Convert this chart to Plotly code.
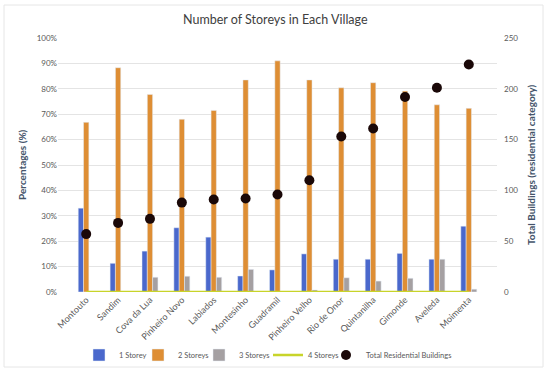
import plotly.graph_objects as go

villages = ["Montouto", "Sandim", "Cova da Lua", "Pinheiro Novo", "Labiados", "Montesinho",
            "Guadramil", "Pinheiro Velho", "Rio de Onor", "Quintanilha", "Gimonde", "Aveleda", "Moimenta"]
storey1 = [33.0, 11.3, 16.1, 25.3, 21.6, 6.3, 8.7, 15.0, 12.9, 12.9, 15.2, 12.9, 25.9]
storey2 = [66.8, 88.3, 77.8, 68.0, 71.5, 83.5, 91.0, 83.5, 80.4, 82.4, 79.1, 73.7, 72.3]
storey3 = [0.0, 0.0, 5.8, 6.2, 5.8, 8.9, 0.0, 0.8, 5.6, 4.3, 5.4, 12.9, 1.1]
storey4 = [0, 0, 0, 0, 0, 0, 0, 0, 0, 0, 0, 0, 0]
total_buildings = [57, 68, 72, 88, 91, 92, 96, 110, 153, 161, 192, 201, 224]

pct = lambda v: [x / 100 for x in v]

fig = go.Figure()
fig.add_trace(go.Bar(x=villages, y=pct(storey1), name="1 Storey", marker_color="#4A68CC",
                     legend="legend"))
fig.add_trace(go.Bar(x=villages, y=pct(storey2), name="2 Storeys", marker_color="#DE8E34",
                     legend="legend2"))
fig.add_trace(go.Bar(x=villages, y=pct(storey3), name="3 Storeys", marker_color="#A5A0A2",
                     legend="legend3"))
fig.add_trace(go.Scatter(x=villages, y=pct(storey4), name="4 Storeys", mode="lines",
                         line=dict(color="#C8D42A", width=2.5), legend="legend4"))
fig.add_trace(go.Scatter(x=villages, y=total_buildings, name="Total Residential Buildings",
                         mode="markers", yaxis="y2", legend="legend5",
                         marker=dict(color="#1A0808", size=10)))

font_fam = "Lato, 'Open Sans', sans-serif"
L, R, T, B = 58, 53, 38, 83
W, H = 550, 375
pw = W - L - R
ph = H - T - B
px = lambda x: (x - L) / pw
py = lambda y: (H - B - y) / ph

def leg(x_px):
    return dict(orientation="h", x=px(x_px), xanchor="left", y=py(355), yanchor="middle",
                font=dict(size=7.5, color="#595959"), itemwidth=30,
                bgcolor="rgba(0,0,0,0)", borderwidth=0)

fig.update_layout(
    width=W, height=H,
    margin=dict(l=L, r=R, t=T, b=B, autoexpand=False),
    paper_bgcolor="white", plot_bgcolor="white",
    font=dict(family=font_fam, color="#595959", size=9),
    barmode="group", bargap=0.5, bargroupgap=0,
    showlegend=True,
    legend=leg(79), legend2=leg(138), legend3=leg(199), legend4=leg(268), legend5=leg(326),
    xaxis=dict(tickangle=-45, tickfont=dict(size=9, color="#595959"), automargin=False,
               showline=False, showgrid=False, ticks=""),
    yaxis=dict(range=[0, 1], dtick=0.1, tickformat=".0%", gridcolor="#E4E4E4",
               zeroline=False, tickfont=dict(size=8, color="#595959"), automargin=False),
    yaxis2=dict(range=[0, 250], dtick=50, overlaying="y", side="right", showgrid=False,
                zeroline=False, tickfont=dict(size=8, color="#595959"), automargin=False,
                ticklabelstandoff=6),
)

fig.add_annotation(text="Number of Storeys in Each Village", xref="paper", yref="paper",
                   x=px(275), y=py(20), showarrow=False, xanchor="center", yanchor="middle",
                   font=dict(size=12.5, color="#404040", family=font_fam))
fig.add_annotation(text="<b>Percentages (%)</b>", xref="paper", yref="paper",
                   x=px(22), y=py(165), showarrow=False, textangle=-90,
                   xanchor="center", yanchor="middle",
                   font=dict(size=10, color="#44546A", family=font_fam))
fig.add_annotation(text="<b>Total Buildings (residential category)</b>", xref="paper", yref="paper",
                   x=px(531), y=py(165), showarrow=False, textangle=-90,
                   xanchor="center", yanchor="middle",
                   font=dict(size=10, color="#44546A", family=font_fam))

# outer chart border
fig.add_shape(type="rect", xref="paper", yref="paper",
              x0=px(4), x1=px(543), y0=py(367), y1=py(5),
              line=dict(color="#E6E6E6", width=1), layer="below")

fig.write_html("out.html", config={"displayModeBar": False},
               post_script="document.body.style.margin='0';")
